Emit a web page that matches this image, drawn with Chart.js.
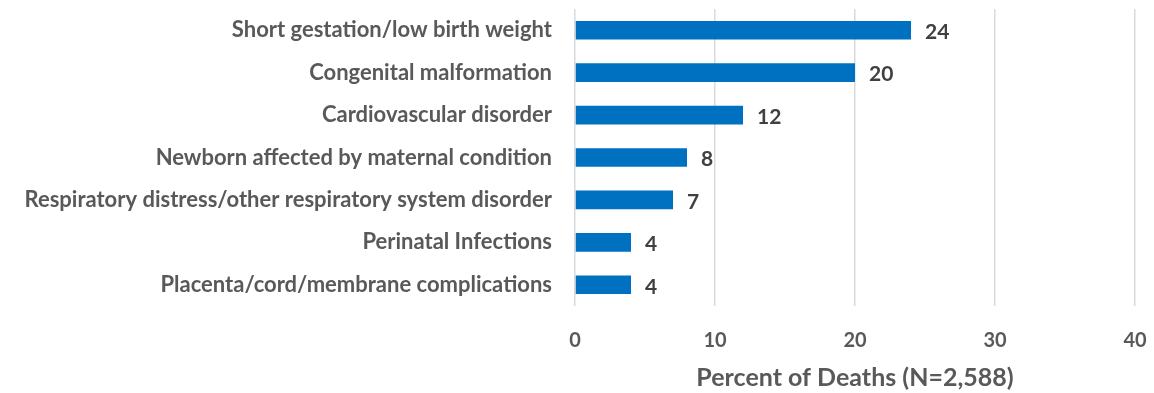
<!DOCTYPE html>
<html>
<head>
<meta charset="utf-8">
<script src="https://cdn.jsdelivr.net/npm/chart.js@4/dist/chart.umd.min.js"></script>
<style>
  html, body { margin: 0; padding: 0; background: #ffffff; }
  #wrap { width: 1154px; height: 393px; position: relative; }
</style>
</head>
<body>
<div id="wrap"><canvas id="chart"></canvas></div>
<script>
// Leading causes of infant death, share of all deaths
const categories = [
  'Short gestation/low birth weight',
  'Congenital malformation',
  'Cardiovascular disorder',
  'Newborn affected by maternal condition',
  'Respiratory distress/other respiratory system disorder',
  'Perinatal Infections',
  'Placenta/cord/membrane complications'
];
const percentValues = [24, 20, 12, 8, 7, 4, 4];
const xTickValues = [0, 10, 20, 30, 40];
const xAxisTitle = 'Percent of Deaths (N=2,588)';

const FONT = 'Lato, "Open Sans", "Liberation Sans", sans-serif';
const TEXT_GRAY = '#595959';
const VALUE_GRAY = '#404040';

// Writes each bar's value just past the end of the bar
const barValueLabels = {
  id: 'barValueLabels',
  afterDatasetsDraw(chart) {
    const ctx = chart.ctx;
    const meta = chart.getDatasetMeta(0);
    const values = chart.data.datasets[0].data;
    ctx.save();
    ctx.font = 'bold 21px ' + FONT;
    ctx.fillStyle = VALUE_GRAY;
    ctx.textAlign = 'left';
    ctx.textBaseline = 'middle';
    meta.data.forEach((bar, i) => {
      ctx.fillText(String(values[i]), bar.x + 14, bar.y + 2);
    });
    ctx.restore();
  }
};

new Chart(document.getElementById('chart'), {
  type: 'bar',
  data: {
    labels: categories,
    datasets: [{
      data: percentValues,
      backgroundColor: '#0070C0',
      borderWidth: 0,
      categoryPercentage: 1.0,
      barPercentage: 0.44
    }]
  },
  options: {
    indexAxis: 'y',
    responsive: true,
    maintainAspectRatio: false,
    animation: false,
    layout: { padding: { top: 9, right: 19, bottom: 0, left: 0 } },
    plugins: {
      legend: { display: false },
      tooltip: { enabled: false }
    },
    scales: {
      x: {
        min: 0,
        max: 40,
        afterBuildTicks(scale) {
          scale.ticks = xTickValues.map(v => ({ value: v }));
        },
        afterFit(scale) {
          scale.height = 87;
          scale.paddingLeft = 0;
          scale.paddingRight = 0;
        },
        grid: { color: '#D9D9D9', lineWidth: 1.5, drawTicks: false },
        border: { display: false },
        ticks: {
          padding: 23,
          maxRotation: 0,
          color: TEXT_GRAY,
          font: { family: FONT, size: 20, weight: 'bold' }
        },
        title: {
          display: true,
          text: xAxisTitle,
          color: TEXT_GRAY,
          font: { family: FONT, size: 25, weight: 'bold' },
          padding: { top: 0, bottom: 0 }
        }
      },
      y: {
        afterFit(scale) {
          scale.width = 575;
          scale.paddingTop = 0;
          scale.paddingBottom = 0;
        },
        grid: { display: false, drawTicks: false },
        border: { display: false },
        ticks: {
          padding: 23,
          color: TEXT_GRAY,
          font: { family: FONT, size: 22, weight: 'bold' }
        }
      }
    }
  },
  plugins: [barValueLabels]
});
</script>
</body>
</html>
